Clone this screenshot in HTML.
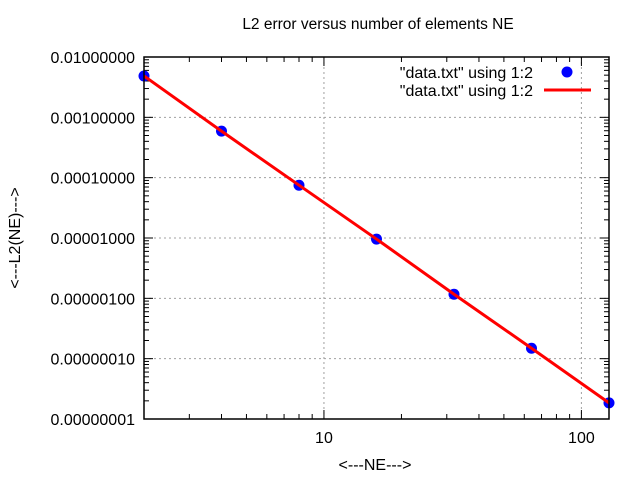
<!DOCTYPE html>
<html><head><meta charset="utf-8"><style>
html,body{margin:0;padding:0;background:#fff;}
svg{display:block;font-family:"Liberation Sans",sans-serif;}
</style></head><body>
<svg id="chart" width="640" height="480">
<rect width="640" height="480" fill="#fff"/>
<g id="grid"></g>
<g id="ticks"></g>
<g id="series"></g>
<rect x="144" y="57" width="465" height="362" fill="none" stroke="#000" stroke-width="1.5"/>
<text x="378" y="29" font-size="15.5" text-anchor="middle">L2 error versus number of elements NE</text>
<text x="375" y="470" font-size="16" text-anchor="middle">&lt;---NE---&gt;</text>
<text transform="translate(20,238) rotate(-90)" font-size="16" text-anchor="middle">&lt;---L2(NE)---&gt;</text>
<g>
<text x="533" y="78" font-size="16" text-anchor="end">"data.txt" using 1:2</text>
<circle cx="567" cy="72" r="5.5" fill="#00f"/>
<text x="533" y="96" font-size="16" text-anchor="end">"data.txt" using 1:2</text>
<line x1="544" y1="90" x2="591" y2="90" stroke="#f00" stroke-width="3"/>
</g>
</svg>
<script>
const ne = [2, 4, 8, 16, 32, 64, 128];
const l2 = [4.85e-3, 5.9e-4, 7.5e-5, 9.6e-6, 1.17e-6, 1.49e-7, 1.85e-8];
const yTickLabels = ["0.00000001","0.00000010","0.00000100","0.00001000","0.00010000","0.00100000","0.01000000"];
const xTickLabels = ["10","100"];

const L=144,R=609,T=57,B=419;
const xMin=Math.log10(2), xMax=Math.log10(128), yMin=-8, yMax=-2;
const xs=v=>L+(Math.log10(v)-xMin)/(xMax-xMin)*(R-L);
const ys=v=>B-(Math.log10(v)-yMin)/(yMax-yMin)*(B-T);
const NS="http://www.w3.org/2000/svg";
function mk(tag,attrs,parent){const e=document.createElementNS(NS,tag);for(const k in attrs)e.setAttribute(k,attrs[k]);parent.appendChild(e);return e;}
const grid=document.getElementById('grid'), ticks=document.getElementById('ticks'), series=document.getElementById('series');

yTickLabels.forEach((lab,i)=>{
  const v=Math.pow(10,yMin+i); const y=ys(v);
  if(i>0&&i<yTickLabels.length-1){const g=mk('line',{x1:L,x2:R,y1:y,y2:y,stroke:'#a0a0a0','stroke-dasharray':'2,3'},grid);
  
  }
  mk('line',{x1:L,x2:L+9,y1:y,y2:y,stroke:'#000'},ticks);
  mk('line',{x1:R,x2:R-9,y1:y,y2:y,stroke:'#000'},ticks);
  const t=mk('text',{x:L-9,y:y+6,'font-size':16,'text-anchor':'end'},ticks);t.textContent=lab;
  
  
  if(i<yTickLabels.length-1){for(let m=2;m<10;m++){const yy=ys(v*m);
    mk('line',{x1:L,x2:L+5,y1:yy,y2:yy,stroke:'#000'},ticks);
    mk('line',{x1:R,x2:R-5,y1:yy,y2:yy,stroke:'#000'},ticks);}}
});
xTickLabels.forEach(lab=>{
  const v=+lab; const x=xs(v);
  const g=mk('line',{x1:x,x2:x,y1:T,y2:B,stroke:'#a0a0a0','stroke-dasharray':'2,3'},grid);
  
  
  mk('line',{x1:x,x2:x,y1:B,y2:B-9,stroke:'#000'},ticks);
  mk('line',{x1:x,x2:x,y1:T,y2:T+9,stroke:'#000'},ticks);
  const t=mk('text',{x:x,y:B+24,'font-size':16,'text-anchor':'middle'},ticks);t.textContent=lab;
  
  
});
[1,10,100].forEach(d=>{for(let m=2;m<10;m++){const v=d*m;if(v<2||v>128||v===10||v===100)continue;const x=xs(v);
  mk('line',{x1:x,x2:x,y1:B,y2:B-5,stroke:'#000'},ticks);
  mk('line',{x1:x,x2:x,y1:T,y2:T+5,stroke:'#000'},ticks);}});

ne.forEach((n,i)=>{const c=mk('circle',{cx:xs(n),cy:ys(l2[i]),r:5.5,fill:'#00f'},series);
  
  });
const pts=ne.map((n,i)=>xs(n)+','+ys(l2[i])).join(' ');
const line=mk('polyline',{points:pts,fill:'none',stroke:'#f00','stroke-width':3},series);


</script>
</body></html>
